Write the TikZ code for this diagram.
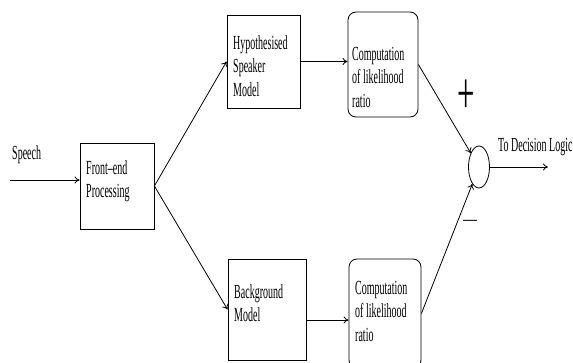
\documentclass[tikz,border=0pt]{standalone}
\usepackage{fontspec}
\setmainfont{Liberation Serif}[FakeStretch=0.5]
\newfontfamily\signfont{Liberation Serif}
\usetikzlibrary{arrows.meta,calc,shapes.geometric}
\begin{document}
\begin{tikzpicture}[x=1pt,y=-1pt,
  box/.style={draw,line width=0.8pt,inner sep=0pt},
  rbox/.style={box,rounded corners=8pt},
  lbl/.style={font=\fontsize{20}{23.5}\selectfont,align=left,inner sep=0pt,anchor=west},
  conn/.style={line width=0.8pt,-{To[length=5pt,width=7pt]}},
  sign/.style={inner sep=0pt,font=\signfont}]
\useasboundingbox (0,0) rectangle (573,363);
\clip (0,0) rectangle (573,363);
% boxes
\node[box,minimum width=74pt,minimum height=86pt] (fe) at (117,186) {};
\node[box,minimum width=73pt,minimum height=93pt] (hyp) at (263.5,61.5) {};
\node[box,minimum width=78pt,minimum height=101pt] (bg) at (267,309.5) {};
\node[rbox,minimum width=70pt,minimum height=105pt] (c1) at (383,64.5) {};
\node[rbox,minimum width=72pt,minimum height=109pt] (c2) at (385,313.5) {};
\node[draw,ellipse,line width=0.8pt,inner sep=0pt,minimum width=21pt,minimum height=42pt] (sum) at (479,167) {};
% texts
\node[lbl] (tspeech) at (12,155) {Speech};
\node[lbl] (tfe) at (86,181) {Front–end\\Processing};
\node[lbl] (thyp) at (233,66) {Hypothesised\\Speaker\\Model};
\node[lbl] (tc1) at (352,77) {Computation\\of likelihood\\ratio};
\node[lbl] (tbg) at (234,303) {Background\\Model};
\node[lbl] (tc2) at (355,311) {Computation\\of likelihood\\ratio};
\node[lbl] (tout) at (498,147) {To Decision Logic};
\node[sign] (plus) at (466,97) {\scalebox{1.4}[2.7]{\fontsize{22}{22}\selectfont +}};
\node[sign] (minus) at (470,224) {\scalebox{1.5}[1]{\fontsize{20}{20}\selectfont −}};
% connectors
\coordinate (s0) at (10,180);
\draw[conn] (s0) -- (s0 -| fe.west);
\draw[conn] (fe.east) -- (hyp.west);
\draw[conn] (fe.east) -- (bg.west);
\draw[conn] (hyp.east) -- (hyp.east -| c1.west);
\coordinate (bgo) at ($(bg.east)+(0,10.5)$);
\draw[conn] (bgo) -- (bgo -| c2.west);
\draw[conn] (c1.east) -- (sum);
\draw[conn] (c2.east) -- (sum);
\coordinate (out) at (548,167);
\draw[conn] (sum.east) -- (out);
\end{tikzpicture}
\end{document}
